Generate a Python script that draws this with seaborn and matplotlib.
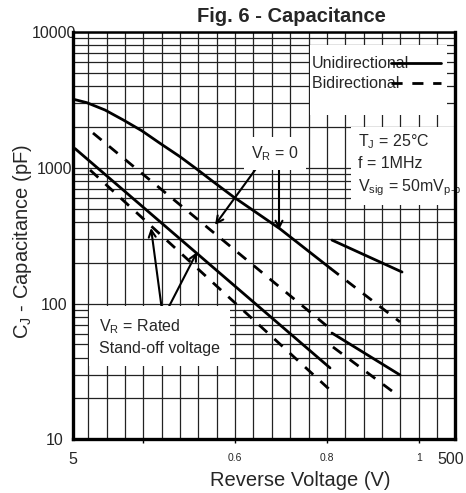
import numpy as np
import pandas as pd
import matplotlib
matplotlib.use('Agg')
import matplotlib.pyplot as plt
import matplotlib.transforms as mtransforms
import seaborn as sns
from matplotlib.lines import Line2D
from matplotlib.patches import Rectangle
from matplotlib.ticker import FixedLocator, NullLocator, FixedFormatter, NullFormatter

# valores (V, pF)
uni_vr0_v = [5.02, 5.90, 7.35, 9.17, 11.45, 14.27, 18.16, 22.2, 27.1, 34.5, 60.6, 110.8]
uni_vr0_c = [3210, 3030, 2675, 2257, 1882, 1520, 1211, 982, 792, 614, 356, 183]
uni_vr0_tail_v = [113.5, 264]
uni_vr0_tail_c = [294, 171]

bi_vr0_v = [6.36, 108.2]
bi_vr0_c = [1810, 67.3]
bi_vr0_tail_v = [110.8, 257.6]
bi_vr0_tail_c = [183, 73.3]

uni_rated_v = [5.12, 110.8]
uni_rated_c = [1390, 33.6]
uni_rated_tail_v = [113.5, 257.6]
uni_rated_tail_c = [60.7, 29.8]

bi_rated_v = [6.14, 110.8]
bi_rated_c = [966, 23.1]
bi_rated_tail_v = [114.8, 257.6]
bi_rated_tail_c = [47.9, 20.5]

y_ticks = [10, 100, 1000, 10000]
x_ticks = [5, 500]
x2_ticks = [0.4, 0.6, 0.8, 1.0]
x2_labels = ['', '0.6', '0.8', '1']

segments = [
    ('Unidirectional', 'uni_vr0', uni_vr0_v, uni_vr0_c),
    ('Unidirectional', 'uni_vr0_tail', uni_vr0_tail_v, uni_vr0_tail_c),
    ('Bidirectional', 'bi_vr0', bi_vr0_v, bi_vr0_c),
    ('Bidirectional', 'bi_vr0_tail', bi_vr0_tail_v, bi_vr0_tail_c),
    ('Unidirectional', 'uni_rated', uni_rated_v, uni_rated_c),
    ('Unidirectional', 'uni_rated_tail', uni_rated_tail_v, uni_rated_tail_c),
    ('Bidirectional', 'bi_rated', bi_rated_v, bi_rated_c),
    ('Bidirectional', 'bi_rated_tail', bi_rated_tail_v, bi_rated_tail_c),
]
rows = []
for kind, seg, vs, cs in segments:
    for v, c in zip(vs, cs):
        rows.append({'voltage': v, 'capacitance': c, 'type': kind, 'segment': seg})
df = pd.DataFrame(rows)

sns.set_style('white')
plt.rcParams['font.family'] = ['Liberation Sans', 'DejaVu Sans']
plt.rcParams['mathtext.fontset'] = 'custom'
plt.rcParams['mathtext.rm'] = 'Liberation Sans'
plt.rcParams['mathtext.it'] = 'Liberation Sans:italic'
plt.rcParams['mathtext.bf'] = 'Liberation Sans:bold'

fig = plt.figure(figsize=(4.66, 4.93), dpi=100)
fig.patch.set_facecolor('white')
ax = fig.add_axes([0.1567, 0.1089, 0.8197, 0.8256])
ax.set_xscale('log')
ax.set_yscale('log')

# eje lineal secundario (rejilla vertical y etiquetas 0.6/0.8/1)
ax2 = ax.twiny()
ax2.set_xlim(0.247, 1.079)
ax2.xaxis.set_ticks_position('bottom')
ax2.xaxis.set_major_locator(FixedLocator(x2_ticks))
ax2.xaxis.set_major_formatter(FixedFormatter(x2_labels))
ax2.xaxis.set_minor_locator(FixedLocator(np.round(np.arange(0.28, 1.05, 0.04), 2)))
ax2.tick_params(axis='x', which='major', direction='out', length=3, width=1,
                labelsize=7.5, pad=7, color='black')
ax2.tick_params(axis='x', which='minor', length=0)
ax2.grid(True, which='both', axis='x', color='#222222', linewidth=0.9)
for s in ax2.spines.values():
    s.set_visible(False)
ax2.set_zorder(1)
ax.set_zorder(2)
ax.patch.set_visible(False)

sns.lineplot(data=df, x='voltage', y='capacitance', style='type', units='segment',
             estimator=None, sort=False, color='black', linewidth=2,
             dashes={'Unidirectional': '', 'Bidirectional': (4, 3.5)},
             legend=False, ax=ax)

ax.set_xlim(5, 500)
ax.set_ylim(10, 10000)
ax.xaxis.set_major_locator(FixedLocator(x_ticks))
ax.xaxis.set_major_formatter(FixedFormatter([str(t) for t in x_ticks]))
ax.xaxis.set_minor_locator(NullLocator())
ax.yaxis.set_major_locator(FixedLocator(y_ticks))
ax.yaxis.set_major_formatter(FixedFormatter([str(t) for t in y_ticks]))
ax.yaxis.set_minor_formatter(NullFormatter())
ax.tick_params(axis='both', which='both', length=0)
ax.tick_params(axis='x', labelsize=11.5, pad=9)
ax.tick_params(axis='y', labelsize=11.5, pad=13.5)
for lab in ax.get_yticklabels():
    lab.set_horizontalalignment('center')
# "500" un poco hacia la izquierda, como en el original
shift = mtransforms.ScaledTranslation(-4 / 100, 0, fig.dpi_scale_trans)
last = ax.get_xticklabels()[-1]
last.set_transform(last.get_transform() + shift)
ax.set_axisbelow(True)
ax.grid(True, which='both', axis='y', color='#222222', linewidth=0.9)
ax.grid(False, axis='x')

for side, w in [('left', 2.4), ('bottom', 2.4), ('right', 2.4), ('top', 1.8)]:
    ax.spines[side].set_visible(True)
    ax.spines[side].set_linewidth(w)
    ax.spines[side].set_color('black')

ax.set_xlabel('Reverse Voltage (V)', fontsize=14.5)
ax.set_ylabel('C$_\\mathregular{J}$ - Capacitance (pF)', fontsize=14.5)
ax.xaxis.set_label_coords(0.594, -0.10)
ax.xaxis.label.set_va('center')
ax.yaxis.set_label_coords(-0.131, 0.487)
ax.yaxis.label.set_va('center')

fig.text(0.6245, 0.966, 'Fig. 6 - Capacitance', fontsize=14.5, fontweight='bold',
         ha='center', va='center')

# leyenda
ax.add_patch(Rectangle((0.620, 0.797), 0.359, 0.172, transform=ax.transAxes,
                       facecolor='white', edgecolor='none', zorder=1))
handles = [Line2D([], [], color='black', lw=2),
           Line2D([], [], color='black', lw=2, dashes=(4, 3.5))]
ax.legend(handles, ['Unidirectional', 'Bidirectional  '], loc='upper right',
          bbox_to_anchor=(1.0, 0.976), frameon=False, markerfirst=False,
          handlelength=3.1, handletextpad=-1.1, labelspacing=0.3, fontsize=11.5)

box = dict(boxstyle='square,pad=0.45', facecolor='white', edgecolor='none')
ax.text(0.746, 0.674, 'T$_\\mathregular{J}$ = 25°C\nf = 1MHz\nV$_\\mathregular{sig}$ = 50mV$_\\mathregular{p\\text{-}p}$',
        transform=ax.transAxes, fontsize=11.5, ha='left', va='center',
        linespacing=1.45, bbox=box, zorder=2.3)
ax.text(0.529, 0.703, 'V$_\\mathregular{R}$ = 0', transform=ax.transAxes,
        fontsize=11.5, ha='center', va='center', bbox=box, zorder=2.3)
ax.text(0.068, 0.2526, 'V$_\\mathregular{R}$ = Rated\nStand-off voltage',
        transform=ax.transAxes, fontsize=11.5, ha='left', va='center',
        linespacing=1.45, bbox=dict(boxstyle='square,pad=0.6', facecolor='white',
                                    edgecolor='none'), zorder=2.3)

arrow = dict(arrowstyle='->,head_length=0.5,head_width=0.25', color='black', lw=1.5,
             shrinkA=0, shrinkB=0)
ax.annotate('', xy=(27.7, 380), xytext=(46.5, 1034), arrowprops=arrow, zorder=2.2)
ax.annotate('', xy=(59.9, 349), xytext=(59.9, 1088), arrowprops=arrow, zorder=2.2)
ax.annotate('', xy=(12.8, 361), xytext=(14.8, 78.3), arrowprops=arrow, zorder=2.2)
ax.annotate('', xy=(22.3, 240), xytext=(14.8, 78.3), arrowprops=arrow, zorder=2.2)

fig.savefig('out.png', dpi=100, facecolor='white')
